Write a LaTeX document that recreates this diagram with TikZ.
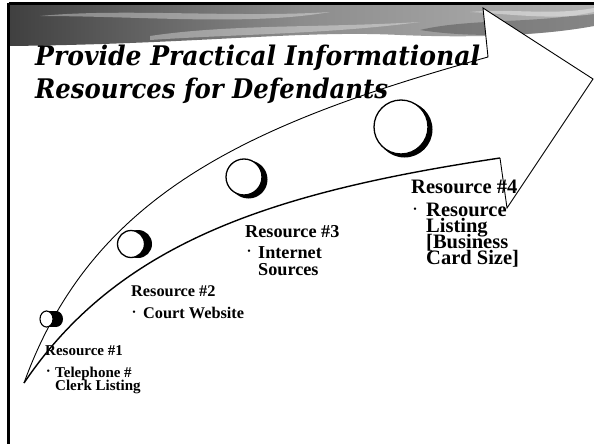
\documentclass[tikz,border=0pt]{standalone}
\usepackage{fontspec}
\setmainfont{Liberation Serif}
\newfontfamily\ttlfont{DejaVu Serif}
\usetikzlibrary{shapes.geometric}
\newcommand\tightls{\lineskiplimit=-30pt\relax}
\begin{document}
\begin{tikzpicture}[x=1pt,y=-1pt,
  outl/.style={line width=0.9pt, line join=miter},
  ttl/.style={anchor=base west, inner sep=0pt, font=\ttlfont\fontsize{27}{27}\selectfont\bfseries\itshape},
  lbl/.style={anchor=base west, inner sep=0pt, align=left},
  bul/.style={inner sep=0pt, font=\fontsize{10}{10}\selectfont},
  fa/.style={font=\fontsize{15}{13}\selectfont\tightls\bfseries},
  fb/.style={font=\fontsize{16.3}{16}\selectfont\tightls\bfseries},
  fc/.style={font=\fontsize{18.2}{17}\selectfont\tightls\bfseries},
  fd/.style={font=\fontsize{20.5}{16}\selectfont\tightls\bfseries},
  wdisc/.style={circle, draw=black, fill=white, line width=1.3pt, inner sep=0pt},
  bdisc/.style={circle, fill=black, inner sep=0pt}]
\useasboundingbox (0,0) rectangle (594,444);
\fill[white] (0,0) rectangle (594,444);
% banner
\shade[left color=black!75, right color=black!30, middle color=black!45]
  (9,5) -- (594,5) -- (594,26) .. controls (540,36) and (470,38) .. (400,35)
  .. controls (300,30) and (200,44) .. (9,46) -- cycle;
\fill[white, opacity=0.35] (40,16) .. controls (120,8) and (240,18) .. (330,12)
  .. controls (250,26) and (140,16) .. (40,16) -- cycle;
\fill[white, opacity=0.35] (150,36) .. controls (230,24) and (320,28) .. (420,22)
  .. controls (330,34) and (240,34) .. (150,40) -- cycle;
\fill[black, opacity=0.25] (420,30) .. controls (470,18) and (540,24) .. (594,12)
  -- (594,26) .. controls (540,36) and (470,38) .. (420,30) -- cycle;
\fill[white, opacity=0.4] (470,12) .. controls (510,8) and (550,16) .. (594,8)
  -- (594,14) .. controls (550,20) and (510,14) .. (470,12) -- cycle;
% frame
\draw[line width=3pt] (8.5,4) -- (594,4);
\draw[line width=2.6pt] (8.6,3) -- (8.6,444);
% arrow
\coordinate (tail) at (24,383);
\coordinate (lowend) at (500,158);
\coordinate (notchlow) at (507,208);
\coordinate (tip) at (593,79);
\coordinate (top) at (483,8);
\coordinate (notchup) at (488,57);
\fill[white] (tail) .. controls (119,242) and (273,192) .. (lowend) -- (notchlow) -- (tip) -- (top) -- (notchup)
  .. controls (247,124) and (92,195) .. (tail) -- cycle;
% title
\node[ttl] (t1) at (35,66) {\resizebox{445pt}{\height}{Provide Practical Informational}};
\node[ttl] (t2) at (35,98) {\resizebox{353pt}{\height}{Resources for Defendants}};
% arrow outline
\draw[outl] (lowend) -- (notchlow) -- (tip) -- (top) -- (notchup)
  .. controls (247,124) and (92,195) .. (tail);
\draw[line width=1.4pt] (tail) .. controls (119,242) and (273,192) .. (lowend);
% discs
\node[ellipse, fill=black, inner sep=0pt, minimum width=14pt, minimum height=16pt] (d1b) at (56,319) {};
\fill[black] (46.5,311) rectangle (56,327);
\node[ellipse, draw=black, fill=white, line width=1.1pt, inner sep=0pt, minimum width=13pt, minimum height=16pt] (d1) at (46.5,319) {};
\node[bdisc, minimum size=28pt] (d2b) at (138,244) {};
\node[wdisc, minimum size=27pt] (d2) at (131,244) {};
\node[bdisc, minimum size=38pt] (d3b) at (248.5,179.5) {};
\node[wdisc, minimum size=36pt] (d3) at (244,177) {};
\node[bdisc, minimum size=56pt] (d4b) at (404.5,129.5) {};
\node[wdisc, minimum size=54pt] (d4) at (401,127) {};
% resource 1
\node[lbl, fa] (r1h) at (45,355) {Resource \#1};
\node[bul] (r1b) at (48.5,372) {\textbullet};
\node[lbl, fa] (r1t) at (55,390) {Telephone \#\\Clerk Listing};
% resource 2
\node[lbl, fb] (r2h) at (131,296) {Resource \#2};
\node[bul] (r2b) at (134,313) {\textbullet};
\node[lbl, fb] (r2t) at (143,318) {Court Website};
% resource 3
\node[lbl, fc] (r3h) at (245,237) {Resource \#3};
\node[bul] (r3b) at (249,252.5) {\textbullet};
\node[lbl, fc] (r3t) at (258,275) {Internet\\Sources};
% resource 4
\node[lbl, fd] (r4h) at (411,193) {Resource \#4};
\node[bul] (r4b) at (415,210) {\textbullet};
\node[lbl, fd] (r4t) at (426,264) {Resource\\Listing\\[0pt][Business\\Card Size]};
\end{tikzpicture}
\end{document}
